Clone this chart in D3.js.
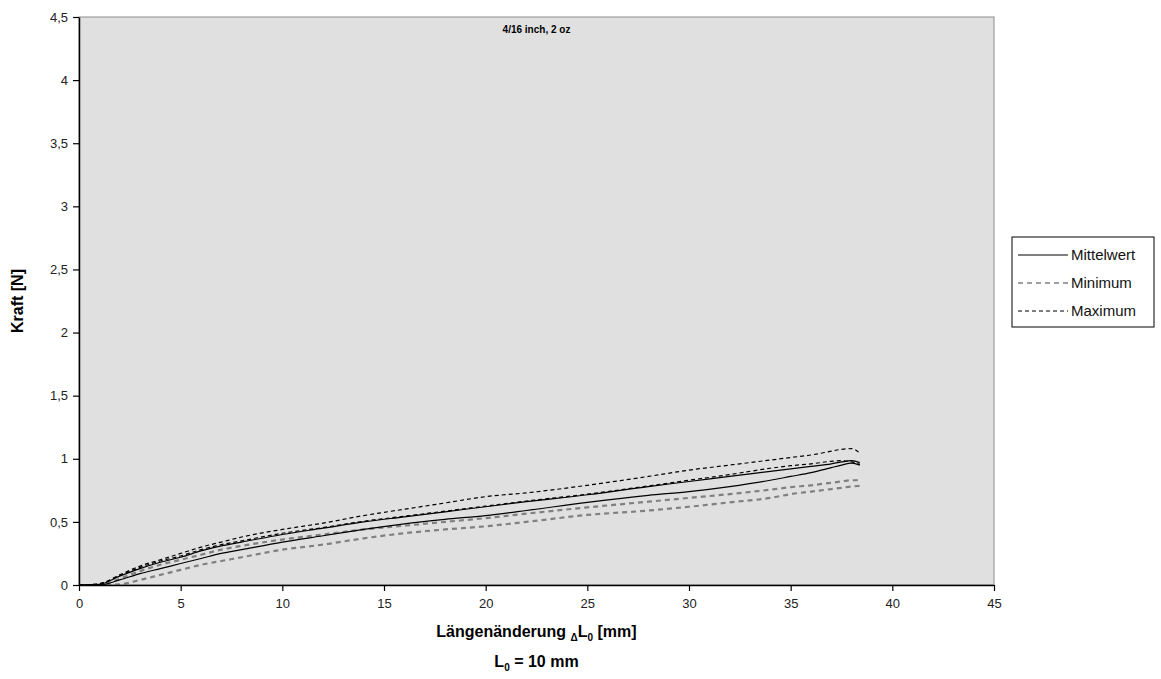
<!DOCTYPE html>
<html>
<head>
<meta charset="utf-8">
<script src="https://cdn.jsdelivr.net/npm/d3@7"></script>
<style>
  body { margin: 0; background: #fff; }
  text { font-family: "Liberation Sans", Arial, sans-serif; }
</style>
</head>
<body>
<div id="container"></div>
<script>
// Chart data
let xValues = [0, 1, 2, 3, 4, 5, 6, 7, 8, 10, 12, 14, 16, 18, 20, 22, 25, 28, 30, 32, 34, 35, 36, 37, 37.5, 38, 38.4];
let maxUpper  = [0, 0.01, 0.08, 0.15, 0.2, 0.25, 0.3, 0.34, 0.38, 0.44, 0.49, 0.55, 0.6, 0.65, 0.7, 0.73, 0.79, 0.86, 0.91, 0.95, 0.99, 1.01, 1.03, 1.06, 1.075, 1.08, 1.045];
let meanUpper = [0, 0.005, 0.07, 0.13, 0.18, 0.22, 0.27, 0.31, 0.34, 0.4, 0.45, 0.5, 0.54, 0.58, 0.62, 0.66, 0.715, 0.78, 0.82, 0.86, 0.9, 0.92, 0.94, 0.96, 0.975, 0.985, 0.97];
let maxLower  = [0, 0.01, 0.075, 0.14, 0.19, 0.23, 0.28, 0.32, 0.35, 0.41, 0.455, 0.505, 0.545, 0.585, 0.625, 0.665, 0.72, 0.785, 0.83, 0.875, 0.925, 0.945, 0.96, 0.98, 0.985, 0.975, 0.955];
let meanLower = [0, 0, 0.04, 0.09, 0.13, 0.17, 0.21, 0.25, 0.28, 0.34, 0.39, 0.44, 0.485, 0.52, 0.55, 0.59, 0.655, 0.71, 0.74, 0.78, 0.83, 0.86, 0.89, 0.93, 0.95, 0.965, 0.95];
let minUpper  = [0, 0, 0.05, 0.11, 0.16, 0.2, 0.24, 0.28, 0.31, 0.36, 0.4, 0.44, 0.47, 0.5, 0.53, 0.565, 0.615, 0.66, 0.69, 0.72, 0.755, 0.775, 0.79, 0.81, 0.82, 0.83, 0.83];
let minLower  = [0, 0, 0.005, 0.04, 0.08, 0.12, 0.16, 0.19, 0.22, 0.28, 0.32, 0.37, 0.41, 0.44, 0.465, 0.5, 0.555, 0.59, 0.62, 0.655, 0.69, 0.72, 0.74, 0.76, 0.77, 0.78, 0.786];

let xTicks = [0, 5, 10, 15, 20, 25, 30, 35, 40, 45];
let yTicks = [0, 0.5, 1, 1.5, 2, 2.5, 3, 3.5, 4, 4.5];
let legendNames = ["Mittelwert", "Minimum", "Maximum"];

// Line styles per kind
let styles = {
  mean: { stroke: "#000", width: 1.2, dash: null },
  min:  { stroke: "#808080", width: 2.2, dash: "5,4" },
  max:  { stroke: "#000", width: 1.2, dash: "4,3" }
};

let series = [
  { kind: "min", values: minLower },
  { kind: "min", values: minUpper },
  { kind: "mean", values: meanLower },
  { kind: "max", values: maxLower },
  { kind: "mean", values: meanUpper },
  { kind: "max", values: maxUpper }
];

let chartWidth = 1161;
let chartHeight = 679;
let plotLeft = 79, plotRight = 994, plotTop = 17, plotBottom = 585;

let svg = d3.select('#container')
  .append('svg')
  .attr('width', chartWidth)
  .attr('height', chartHeight);

let xScale = d3.scaleLinear().domain([0, 45]).range([plotLeft, plotRight]);
let yScale = d3.scaleLinear().domain([0, 4.5]).range([plotBottom, plotTop]);

// Plot area
svg.append('rect')
  .attr('x', plotLeft).attr('y', plotTop)
  .attr('width', plotRight - plotLeft).attr('height', plotBottom - plotTop)
  .attr('fill', '#e0e0e0')
  .attr('stroke', '#8c8c8c')
  .attr('stroke-width', 1);

// Title
svg.append('text')
  .attr('x', (plotLeft + plotRight) / 2)
  .attr('y', 33)
  .attr('text-anchor', 'middle')
  .style('font-size', '10px')
  .style('font-weight', 'bold')
  .text('4/16 inch, 2 oz');

// Lines
let line = d3.line()
  .x((d, i) => xScale(xValues[i]))
  .y(d => yScale(d))
  .curve(d3.curveMonotoneX);

svg.append('g')
  .selectAll('path')
  .data(series)
  .enter()
  .append('path')
  .attr('d', d => line(d.values))
  .attr('fill', 'none')
  .attr('stroke', d => styles[d.kind].stroke)
  .attr('stroke-width', d => styles[d.kind].width)
  .attr('stroke-dasharray', d => styles[d.kind].dash);

// Axes
let xAxis = d3.axisBottom(xScale).tickValues(xTicks).tickSize(6).tickSizeOuter(0).tickPadding(8);
let gx = svg.append('g')
  .attr('transform', 'translate(0,' + plotBottom + ')')
  .call(xAxis);

let yAxis = d3.axisLeft(yScale).tickValues(yTicks).tickSize(6).tickSizeOuter(0).tickPadding(5)
  .tickFormat(d => String(d).replace('.', ','));
let gy = svg.append('g')
  .attr('transform', 'translate(' + plotLeft + ',0)')
  .call(yAxis);

[gx, gy].forEach(g => {
  g.select('.domain').attr('stroke', '#000').attr('stroke-width', 1.5);
  g.selectAll('.tick line').attr('stroke', '#000').attr('stroke-width', 1.2);
  g.selectAll('.tick text')
    .style('font-family', '"Liberation Sans", Arial, sans-serif')
    .style('font-size', '13px')
    .attr('fill', '#222');
});

// Axis titles
svg.append('text')
  .attr('transform', 'translate(23,' + ((plotTop + plotBottom) / 2) + ') rotate(-90)')
  .attr('text-anchor', 'middle')
  .style('font-size', '16px')
  .style('font-weight', 'bold')
  .text('Kraft [N]');

let xTitle = svg.append('text')
  .attr('x', (plotLeft + plotRight) / 2)
  .attr('y', 637)
  .attr('text-anchor', 'middle')
  .style('font-size', '16px')
  .style('font-weight', 'bold');
xTitle.append('tspan').text('Längenänderung ');
xTitle.append('tspan').attr('dy', 4).style('font-size', '10px').text('Δ');
xTitle.append('tspan').attr('dy', -4).text('L');
xTitle.append('tspan').attr('dy', 4).style('font-size', '10px').text('0');
xTitle.append('tspan').attr('dy', -4).text(' [mm]');

let subTitle = svg.append('text')
  .attr('x', (plotLeft + plotRight) / 2)
  .attr('y', 667)
  .attr('text-anchor', 'middle')
  .style('font-size', '16px')
  .style('font-weight', 'bold');
subTitle.append('tspan').text('L');
subTitle.append('tspan').attr('dy', 4).style('font-size', '10px').text('0');
subTitle.append('tspan').attr('dy', -4).text(' = 10 mm');

// Legend
let legend = svg.append('g').attr('transform', 'translate(1012,237)');
legend.append('rect')
  .attr('width', 142).attr('height', 90)
  .attr('fill', '#fff')
  .attr('stroke', '#000')
  .attr('stroke-width', 1);

let legendKinds = ["mean", "min", "max"];
let legendRows = legend.selectAll('g.row')
  .data(legendNames)
  .enter()
  .append('g')
  .attr('class', 'row')
  .attr('transform', (d, i) => 'translate(0,' + (18 + i * 28) + ')');

legendRows.append('line')
  .attr('x1', 6).attr('x2', 56)
  .attr('y1', 0).attr('y2', 0)
  .attr('stroke', (d, i) => styles[legendKinds[i]].stroke)
  .attr('stroke-width', (d, i) => legendKinds[i] === 'min' ? 1.5 : 1.2)
  .attr('stroke-dasharray', (d, i) => styles[legendKinds[i]].dash);

legendRows.append('text')
  .attr('x', 59)
  .attr('y', 5)
  .style('font-size', '15px')
  .attr('fill', '#111')
  .text(d => d);
</script>
</body>
</html>
